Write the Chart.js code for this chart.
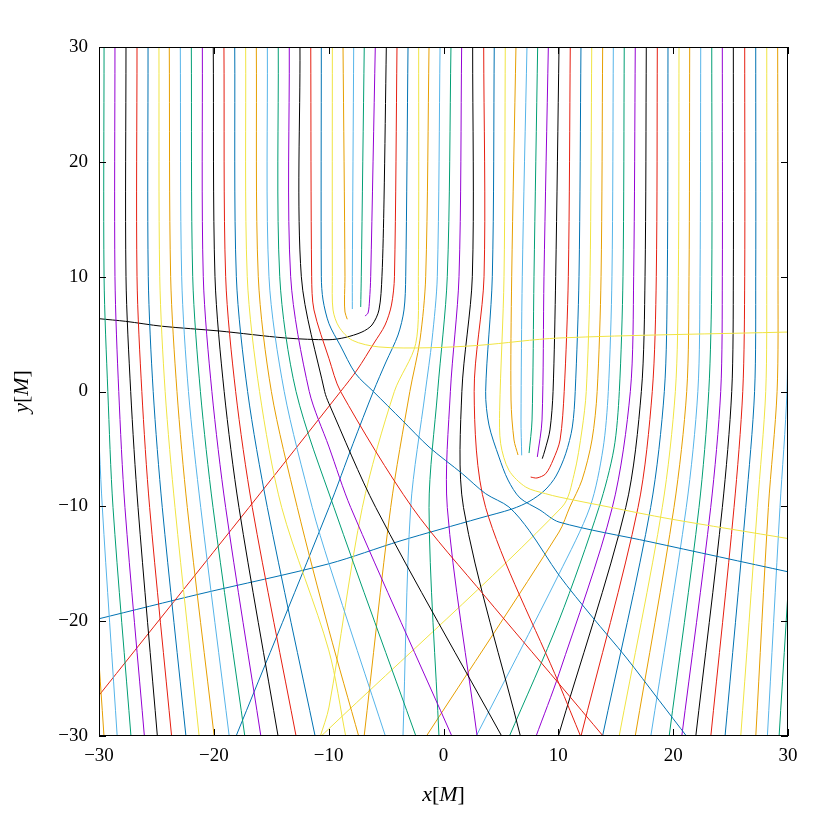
<!DOCTYPE html>
<html>
<head>
<meta charset="utf-8">
<script src="https://cdn.jsdelivr.net/npm/chart.js"></script>
<style>
  html, body { margin: 0; padding: 0; background: #fff; }
  #wrap { width: 830px; height: 830px; }
</style>
</head>
<body>
<div id="wrap"><canvas id="rays" width="830" height="830"></canvas></div>
<script>
// line colours, repeating from left to right across the fan of rays
let rayColors = ["#009e73", "#9400d3", "#000000", "#e51e10", "#0072b2", "#f0e442", "#e69f00", "#56b4e9"];

// AXES: ticks and titles (pieces marked true are set in italics)
let axisTicks = [-30, -20, -10, 0, 10, 20, 30];
let xTitle = [["x", true], ["[", false], ["M", true], ["]", false]];
let yTitle = [["y", true], ["[", false], ["M", true], ["]", false]];

// RAYS FAR FROM THE HOLES: x [M] read at these heights y [M]
let sampleY = [30, 10, 0, -10.1, -30.1];
let farRayIds = [-2, -1, 0, 1, 2, 3, 4, 5, 6, 7, 8, 9, 10, 11, 12,
    51, 52, 53, 54, 55, 56, 57, 58, 59, 60, 61, 62, 63, 64];
let farRayX = [
    [-31.57, -31.48, -31.22, -30.87, -29.56],
    [-30.52, -30.52, -30.17, -29.71, -28.41],
    [-29.56, -29.56, -29.23, -28.78, -27.21],
    [-28.61, -28.61, -28.28, -27.74, -26.04],
    [-27.65, -27.65, -27.24, -26.60, -24.91],
    [-26.69, -26.69, -26.27, -25.59, -23.67],
    [-25.73, -25.71, -25.28, -24.49, -22.42],
    [-24.78, -24.71, -24.24, -23.38, -21.27],
    [-23.88, -23.76, -23.21, -22.31, -19.96],
    [-22.92, -22.80, -22.21, -21.14, -18.65],
    [-21.96, -21.84, -21.17, -20.07, -17.29],
    [-21.00, -20.92, -20.17, -18.97, -15.89],
    [-20.05, -19.90, -19.10, -17.81, -14.39],
    [-19.12, -18.97, -18.10, -16.65, -12.82],
    [-18.18, -18.04, -17.06, -15.34, -11.16],
    [18.62, 18.53, 18.18, 16.94, 11.95],
    [19.55, 19.49, 19.23, 18.04, 13.83],
    [20.51, 20.45, 20.19, 19.05, 15.28],
    [21.44, 21.38, 21.18, 20.07, 16.68],
    [22.40, 22.34, 22.15, 21.14, 18.04],
    [23.36, 23.36, 23.10, 22.25, 19.64],
    [24.28, 24.28, 24.14, 23.27, 20.74],
    [25.24, 25.24, 25.10, 24.28, 21.96],
    [26.23, 26.23, 26.06, 25.30, 23.27],
    [27.19, 27.19, 27.09, 26.32, 24.51],
    [28.15, 28.15, 28.06, 27.33, 25.88],
    [29.10, 29.13, 29.05, 28.29, 27.19],
    [30.04, 30.00, 29.91, 29.30, 28.20],
    [30.96, 30.96, 30.87, 30.43, 29.22],
];

// RAYS BENT BY THE HOLES: [x, y] points along each ray
let nearRayIds = [13, 14, 15, 16, 17, 18, 19, 20, 21, 22, 23, 24, 25, 26, 27, 28, 29, 30, 31,
    32, 33, 34, 35, 36, 37, 38, 39, 40, 41, 42, 43, 44, 45, 46, 47, 48, 49, 50];
let nearRays = [
    [[-17.23, 30], [-17.09, 10], [-16.02, 0], [-14.09, -10.1], [-10.0, -22.5], [-8.5, -30.1]],
    [[-16.30, 30], [-16.13, 10], [-14.99, 0], [-12.73, -10.1], [-9.97, -20.8], [-7.36, -30.1]],
    [[-15.34, 30], [-15.20, 10], [-13.87, 0], [-11.43, -10.1], [-9.97, -15.0], [-5.03, -30.1]],
    [[-14.39, 30], [-14.26, 10], [-12.84, 0], [-9.54, -10.1], [-2.37, -30.1]],
    [[-13.43, 30], [-13.31, 10], [-11.69, 0], [-9.97, -4.83], [-8.08, -10.1], [0.77, -30.1]],
    [[-12.50, 30], [-12.38, 10], [-10.35, 0], [-9.97, -1.06], [-5.90, -10.1], [5.12, -30.1]],
    [[-11.56, 30], [-11.48, 10], [-11.28, 7.1], [-9.97, 2.86], [-8.96, 0], [-2.72, -10.1],
        [3.67, -17.9], [10.06, -25.45], [13.98, -30.1]],
    [[-10.64, 30], [-10.64, 10], [-10.49, 7.97], [-9.97, 5.90], [-9.01, 4.05], [-7.65, 1.55],
        [-6.11, 0], [-3.59, -2.51], [-1.26, -4.83], [1.64, -7.16], [3.67, -8.90], [5.70, -10.06],
        [7.45, -12.09], [10.06, -16.0], [12.96, -19.64], [15.87, -23.12], [18.77, -26.89], [21.23, -30.1]],
    [[-9.68, 30], [-9.68, 10], [-9.62, 7.10], [-9.10, 5.62], [-7.94, 4.46], [-5.62, 3.88],
        [-1.26, 3.81], [3.09, 4.02], [10.06, 4.66], [30.09, 5.18]],
    [[-8.75, 30], [-8.58, 10], [-8.62, 7.97], [-8.58, 6.92], [-8.38, 6.29]],
    [[-7.82, 30], [-7.94, 10], [-7.94, 7.18]],
    [[-6.90, 30], [-7.16, 10], [-7.21, 7.36]],
    [[-5.94, 30], [-6.34, 10], [-6.44, 7.97], [-6.57, 6.84], [-6.84, 6.57]],
    [[-4.98, 30], [-5.18, 16.68], [-5.36, 10], [-5.62, 7.10], [-6.23, 5.79], [-7.10, 5.18],
        [-8.58, 4.70], [-9.97, 4.51], [-13.74, 4.66], [-19.55, 5.27], [-24.49, 5.68],
        [-27.68, 6.11], [-30.0, 6.34]],
    [[-4.05, 30], [-4.27, 10], [-4.53, 7.53], [-5.09, 5.79], [-6.05, 4.22], [-7.53, 1.87],
        [-8.96, 0], [-16.94, -10.1], [-30.0, -26.46]],
    [[-3.09, 30], [-3.29, 10], [-3.44, 7.10], [-3.96, 4.92], [-5.01, 2.57], [-6.11, 0],
        [-7.88, -4.55], [-9.97, -10.1], [-18.10, -30.1]],
    [[-2.16, 30], [-2.19, 10], [-2.42, 4.16], [-4.28, 0], [-7.07, -10.1], [-9.97, -27.48], [-10.75, -30.1]],
    [[-1.26, 30], [-1.55, 10], [-2.05, 4.48], [-2.93, 0], [-4.60, -10.1], [-6.92, -30.1]],
    [[-0.30, 30], [-0.54, 10], [-1.00, 4.48], [-1.58, 0], [-2.86, -10.1], [-3.53, -30.1]],
    [[0.65, 30], [0.33, 10], [-0.51, 0], [-1.26, -10.1], [-0.39, -30.1]],
    [[1.58, 30], [1.35, 10], [0.60, 0], [0.33, -10.1], [2.94, -30.1]],
    [[2.54, 30], [2.51, 10], [1.60, 0], [1.74, -10.1], [6.72, -30.1]],
    [[3.50, 30], [3.53, 10], [2.67, 0], [3.67, -10.1], [10.06, -25.45], [11.97, -30.1]],
    [[4.42, 30], [4.25, 10], [3.67, 0], [3.96, -2.92], [4.83, -5.70], [5.62, -7.71], [6.66, -9.27],
        [8.40, -10.32], [10.06, -11.37], [17.98, -13.09], [30.09, -15.72]],
    [[5.38, 30], [5.27, 10], [4.89, -1.64], [4.98, -4.55], [5.70, -6.86], [7.16, -8.32],
        [8.90, -8.90], [10.06, -9.19], [14.41, -10.06], [19.64, -11.08], [30.09, -12.82]],
    [[6.31, 30], [5.94, 10], [5.88, -0.74], [6.14, -4.22], [6.49, -5.53]],
    [[7.27, 30], [6.86, 10], [6.75, -2.48], [6.81, -5.56]],
    [[8.20, 30], [7.88, 10], [7.71, -2.48], [7.45, -5.36]],
    [[9.13, 30], [8.75, 10], [8.58, -2.48], [8.17, -5.70]],
    [[10.06, 30], [9.77, 10], [9.54, 0], [9.27, -3.35], [8.84, -5.09], [8.60, -5.85]],
    [[11.04, 30], [10.87, 10], [10.51, 0], [10.15, -4.22], [9.54, -5.97], [8.90, -7.16],
        [8.14, -7.53], [7.59, -7.45]],
    [[11.97, 30], [11.80, 10], [11.47, 0], [11.22, -3.09], [10.64, -5.42], [9.80, -7.36],
        [8.84, -8.58], [7.53, -9.54], [5.97, -10.23], [3.18, -11.02], [-3.79, -13.02],
        [-9.97, -15.0], [-21.21, -17.63], [-30.0, -19.79]],
    [[12.91, 30], [12.76, 10], [12.43, 0], [12.06, -3.35], [11.37, -7.23], [10.32, -10.06],
        [-9.97, -29.36], [-10.75, -30.1]],
    [[13.86, 30], [13.72, 10], [13.38, 0], [12.93, -4.22], [12.06, -7.71], [11.0, -10.06],
        [10.06, -12.24], [-1.55, -30.1]],
    [[14.79, 30], [14.67, 10], [14.35, 0], [13.89, -5.0], [12.76, -10.06], [10.06, -15.89], [2.80, -30.1]],
    [[15.74, 30], [15.63, 10], [15.31, 0], [14.84, -5.0], [13.54, -10.1], [10.06, -19.92], [5.70, -30.1]],
    [[16.70, 30], [16.56, 10], [16.27, 0], [14.70, -10.1], [10.06, -24.58], [8.03, -30.1]],
    [[17.66, 30], [17.55, 10], [17.23, 0], [15.87, -10.1], [9.97, -30.1]],
];

function colorOf(id) {
    return rayColors[((id % 8) + 8) % 8];
}

let rays = [];
farRayIds.forEach((id, i) => {
    rays.push({ id: id, pts: farRayX[i].map((x, j) => ({ x: x, y: sampleY[j] })) });
});
nearRayIds.forEach((id, i) => {
    rays.push({ id: id, pts: nearRays[i].map(p => ({ x: p[0], y: p[1] })) });
});
rays.sort((a, b) => a.id - b.id);

let datasets = rays.map(r => ({
    data: r.pts,
    borderColor: colorOf(r.id),
    borderWidth: 1,
    showLine: true,
    pointRadius: 0,
    tension: 0.3,
}));

let serif = "'Liberation Serif', serif";

// axis title with mixed italic / upright pieces, centred on (cx, cy)
function drawTitle(ctx, parts, cx, cy) {
    const fontOf = p => (p[1] ? "italic " : "") + "22px " + serif;
    const widths = parts.map(p => { ctx.font = fontOf(p); return ctx.measureText(p[0]).width; });
    let x = cx - widths.reduce((s, w) => s + w, 0) / 2;
    ctx.textAlign = "left";
    ctx.textBaseline = "middle";
    ctx.fillStyle = "#000";
    parts.forEach((p, i) => {
        ctx.font = fontOf(p);
        ctx.fillText(p[0], x, cy);
        x += widths[i];
    });
}

// box, inward tick marks on all four sides, and the axis titles
let frame = {
    id: "frame",
    afterDatasetsDraw(chart) {
        const { ctx, chartArea: a, scales } = chart;
        const len = 7;
        ctx.save();
        ctx.strokeStyle = "#000";
        ctx.lineWidth = 1;
        ctx.strokeRect(a.left + 0.5, a.top + 0.5, a.width - 1, a.height - 1);
        ctx.beginPath();
        axisTicks.forEach(v => {
            const px = Math.round(scales.x.getPixelForValue(v)) + 0.5;
            ctx.moveTo(px, a.bottom); ctx.lineTo(px, a.bottom - len);
            ctx.moveTo(px, a.top); ctx.lineTo(px, a.top + len);
            const py = Math.round(scales.y.getPixelForValue(v)) + 0.5;
            ctx.moveTo(a.left, py); ctx.lineTo(a.left + len, py);
            ctx.moveTo(a.right, py); ctx.lineTo(a.right - len, py);
        });
        ctx.stroke();
        drawTitle(ctx, xTitle, (a.left + a.right) / 2, a.bottom + 59);
        ctx.translate(a.left - 77, (a.top + a.bottom) / 2);
        ctx.rotate(-Math.PI / 2);
        drawTitle(ctx, yTitle, 0, 0);
        ctx.restore();
    }
};

let tickFont = { family: serif, size: 19 };
let minus = v => String(v).replace("-", "\u2212");

new Chart("rays", {
    type: "scatter",
    data: { datasets: datasets },
    options: {
        responsive: false,
        animation: false,
        devicePixelRatio: 1,
        layout: { padding: { top: 47, right: 42, bottom: 0, left: 0 } },
        plugins: { legend: { display: false }, tooltip: { enabled: false } },
        scales: {
            x: {
                type: "linear", min: -30, max: 30,
                afterBuildTicks: s => { s.ticks = axisTicks.map(v => ({ value: v })); },
                ticks: { color: "#000", font: tickFont, padding: 9, maxRotation: 0, callback: minus },
                grid: { display: false, drawTicks: false },
                border: { display: false },
                afterFit: s => { s.height = 94; }
            },
            y: {
                type: "linear", min: -30, max: 30,
                afterBuildTicks: s => { s.ticks = axisTicks.map(v => ({ value: v })); },
                ticks: { color: "#000", font: tickFont, padding: 11, callback: minus },
                grid: { display: false, drawTicks: false },
                border: { display: false },
                afterFit: s => { s.width = 99; }
            }
        }
    },
    plugins: [frame]
});
</script>
</body>
</html>
